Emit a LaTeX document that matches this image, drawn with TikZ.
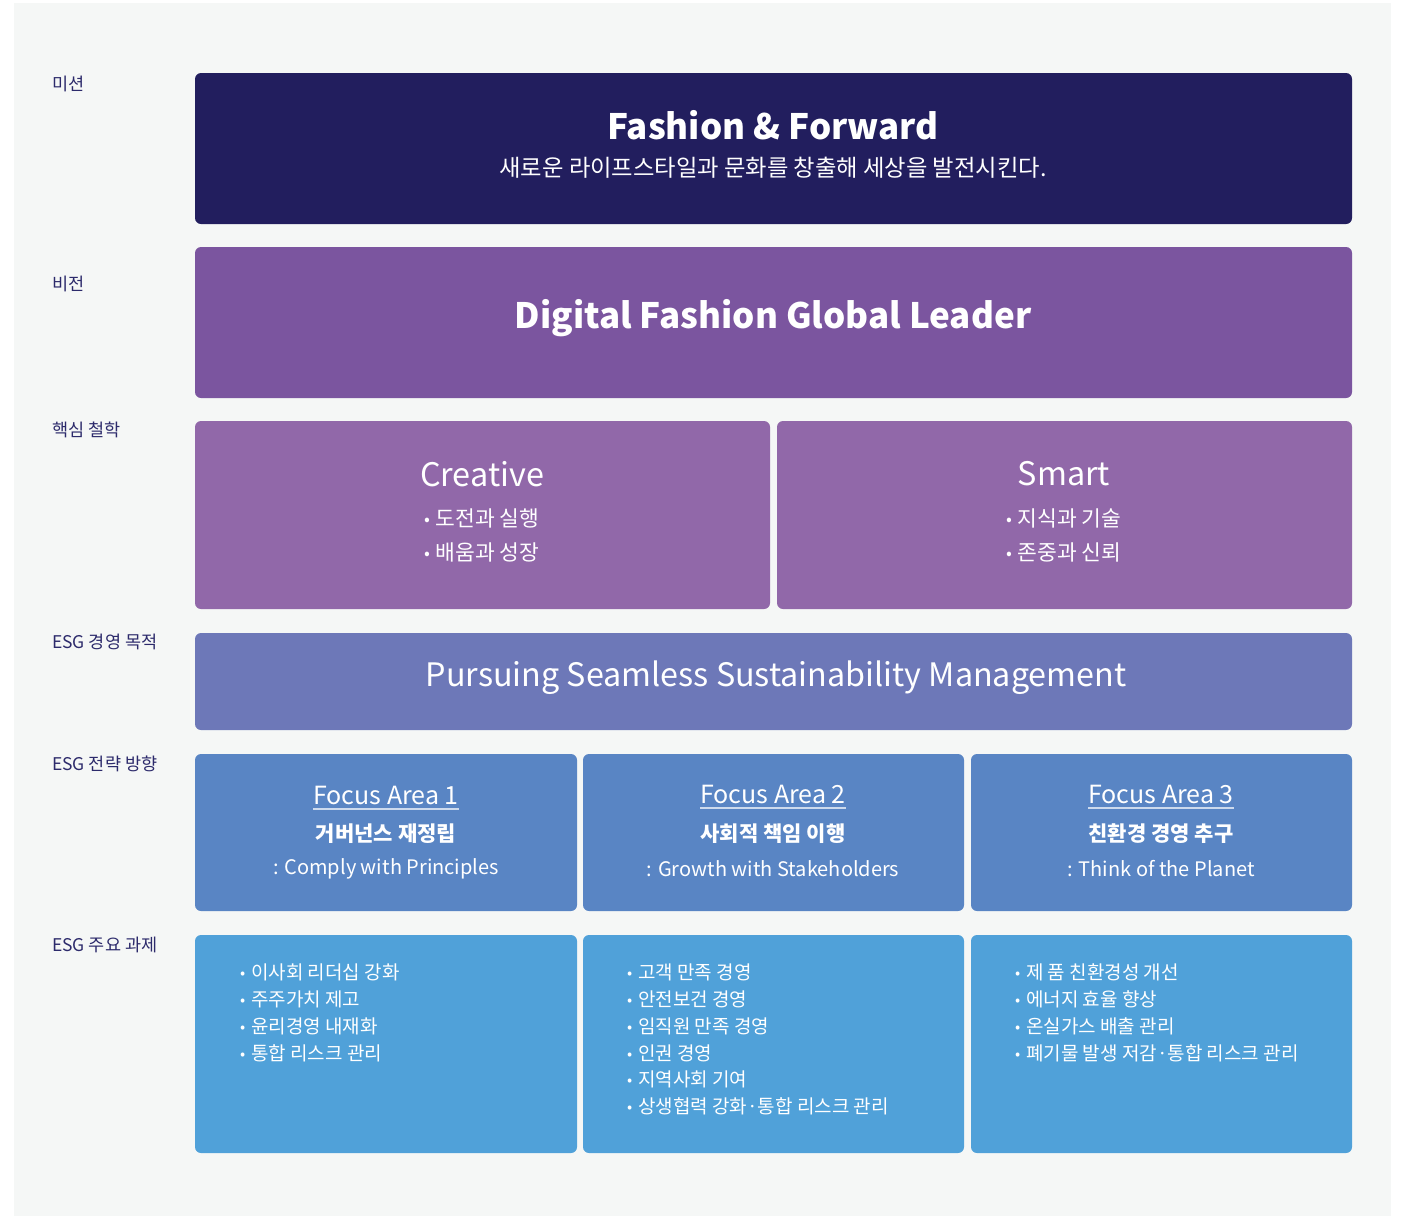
\documentclass[tikz,border=0pt]{standalone}
\usepackage{fontspec}
\setmainfont{Noto Sans CJK KR}
\definecolor{panel}{HTML}{F5F7F6}
\definecolor{cmission}{HTML}{221E5E}
\definecolor{cvision}{HTML}{7B559F}
\definecolor{cphil}{HTML}{9168A9}
\definecolor{cpurpose}{HTML}{6D78B8}
\definecolor{cfocus}{HTML}{5985C4}
\definecolor{ctask}{HTML}{50A1D9}
\definecolor{clabel}{HTML}{2C2A6B}
\tikzset{
  box/.style={anchor=north west, inner sep=0pt, outer sep=0pt, rounded corners=6pt, draw=none},
  rowlabel/.style={anchor=west, inner sep=0pt, text=clabel, font=\fontsize{17.5}{20}\selectfont},
  wtext/.style={inner sep=0pt, text=white},
  tasklist/.style={anchor=north west, inner sep=0pt, text=white, align=left, font=\fontsize{19}{26.7}\selectfont},
}
\newcommand{\bul}{\makebox[11pt][l]{\raisebox{1pt}{\scalebox{0.8}{•}}}}
\begin{document}
\begin{tikzpicture}[x=1pt,y=-1pt]
\useasboundingbox (0,0) rectangle (1406,1216);
\fill[white] (0,0) rectangle (1406,1216);
\fill[panel] (14,3) rectangle (1391,1216);

% row labels
\node[rowlabel] (l1) at (52,84) {미션};
\node[rowlabel] (l2) at (52,284) {비전};
\node[rowlabel] (l3) at (52,430) {핵심 철학};
\node[rowlabel] (l4) at (52,642) {ESG 경영 목적};
\node[rowlabel] (l5) at (52,764) {ESG 전략 방향};
\node[rowlabel] (l6) at (52,945) {ESG 주요 과제};

% mission
\node[box, fill=cmission, minimum width=1157pt, minimum height=151pt] (mission) at (195,73) {};
\node[wtext, font=\fontsize{35}{40}\bfseries\selectfont] (mtitle) at (773,125) {Fashion \& Forward};
\node[wtext, font=\fontsize{23.3}{26}\selectfont] (msub) at (773,168) {새로운 라이프스타일과 문화를 창출해 세상을 발전시킨다.};

% vision
\node[box, fill=cvision, minimum width=1157pt, minimum height=151pt] (vision) at (195,247) {};
\node[wtext, font=\fontsize{35}{40}\bfseries\selectfont] (vtitle) at (773,318) {Digital Fashion Global Leader};

% philosophy
\node[box, fill=cphil, minimum width=575pt, minimum height=188pt] (creative) at (195,421) {};
\node[box, fill=cphil, minimum width=575pt, minimum height=188pt] (smart) at (777,421) {};
\node[wtext, font=\fontsize{32.4}{36}\selectfont] (ctitle) at (482,474) {Creative};
\node[wtext, font=\fontsize{21.5}{34}\selectfont, align=left] (cbul) at (482,535) {\bul 도전과 실행\\\bul 배움과 성장};
\node[wtext, font=\fontsize{32.4}{36}\selectfont] (stitle) at (1064,474) {Smart};
\node[wtext, font=\fontsize{21.5}{34}\selectfont, align=left] (sbul) at (1064,535) {\bul 지식과 기술\\\bul 존중과 신뢰};

% purpose
\node[box, fill=cpurpose, minimum width=1157pt, minimum height=97pt] (purpose) at (195,633) {};
\node[wtext, font=\fontsize{32.3}{36}\selectfont] (ptitle) at (776,678) {Pursuing Seamless Sustainability Management};

% focus areas
\node[box, fill=cfocus, minimum width=382pt, minimum height=157pt] (f1) at (195,754) {};
\node[box, fill=cfocus, minimum width=381pt, minimum height=157pt] (f2) at (583,754) {};
\node[box, fill=cfocus, minimum width=381pt, minimum height=157pt] (f3) at (971,754) {};

\node[wtext, font=\fontsize{25}{28}\selectfont, anchor=base] (fa1) at (386,804) {Focus Area 1};
\node[wtext, font=\fontsize{21}{24}\bfseries\selectfont] (fk1) at (386,834) {거버넌스 재정립};
\node[wtext, font=\fontsize{20}{24}\selectfont] (fe1) at (386,869) {: Comply with Principles};

\node[wtext, font=\fontsize{25}{28}\selectfont, anchor=base] (fa2) at (773,803) {Focus Area 2};
\node[wtext, font=\fontsize{21}{24}\bfseries\selectfont] (fk2) at (773,834) {사회적 책임 이행};
\node[wtext, font=\fontsize{20}{24}\selectfont] (fe2) at (773,869) {: Growth with Stakeholders};

\node[wtext, font=\fontsize{25}{28}\selectfont, anchor=base] (fa3) at (1161,803) {Focus Area 3};
\node[wtext, font=\fontsize{21}{24}\bfseries\selectfont] (fk3) at (1161,834) {친환경 경영 추구};
\node[wtext, font=\fontsize{20}{24}\selectfont] (fe3) at (1161,869) {: Think of the Planet};

\foreach \n in {fa1,fa2,fa3}{
  \draw[white, opacity=0.7, line width=1.2pt] ([yshift=-5pt]\n.base west) -- ([yshift=-5pt]\n.base east);
}

% tasks
\node[box, fill=ctask, minimum width=382pt, minimum height=218pt] (t1) at (195,935) {};
\node[box, fill=ctask, minimum width=381pt, minimum height=218pt] (t2) at (583,935) {};
\node[box, fill=ctask, minimum width=381pt, minimum height=218pt] (t3) at (971,935) {};

\node[tasklist] (tl1) at (240,964) {\bul 이사회 리더십 강화\\\bul 주주가치 제고\\\bul 윤리경영 내재화\\\bul 통합 리스크 관리};
\node[tasklist] (tl2) at (627,964) {\bul 고객 만족 경영\\\bul 안전보건 경영\\\bul 임직원 만족 경영\\\bul 인권 경영\\\bul 지역사회 기여\\\bul 상생협력 강화·통합 리스크 관리};
\node[tasklist] (tl3) at (1015,964) {\bul 제 품 친환경성 개선\\\bul 에너지 효율 향상\\\bul 온실가스 배출 관리\\\bul 폐기물 발생 저감·통합 리스크 관리};
\end{tikzpicture}
\end{document}
